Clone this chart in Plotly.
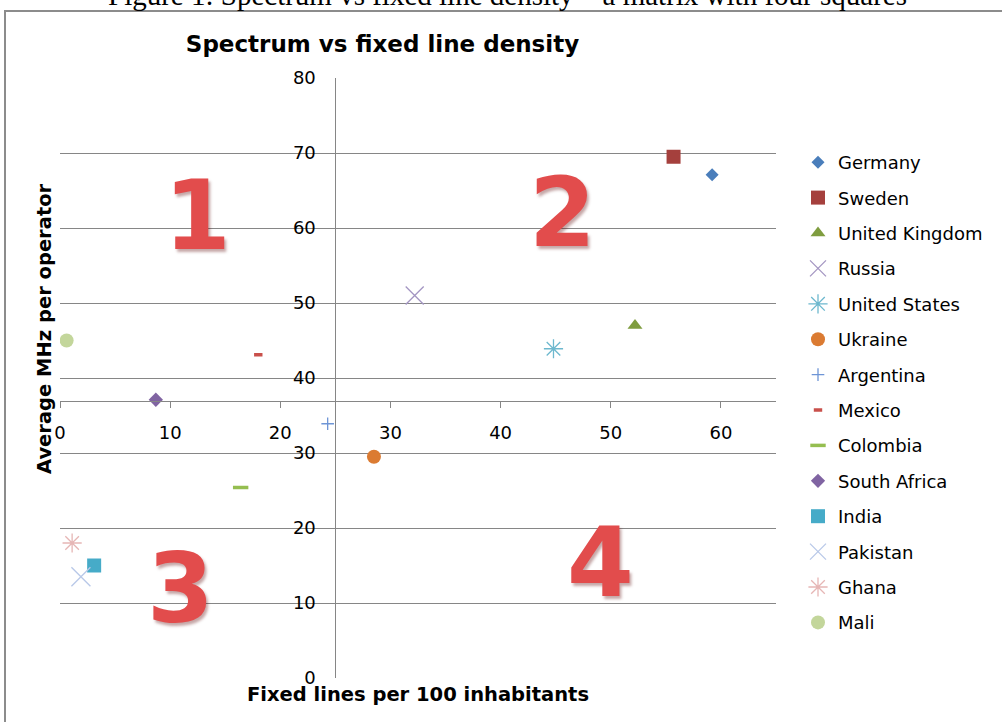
import plotly.graph_objects as go

# ---- data ----
countries = ["Germany", "Sweden", "United Kingdom", "Russia", "United States",
             "Ukraine", "Argentina", "Mexico", "Colombia", "South Africa",
             "India", "Pakistan", "Ghana", "Mali"]
fixed_lines = [59.2, 55.7, 52.2, 32.2, 44.8, 28.5, 24.3, 18.0, 16.4, 8.7,
               3.1, 1.9, 1.1, 0.6]
mhz_per_operator = [67.1, 69.5, 47.0, 51.0, 43.9, 29.5, 33.9, 43.1, 25.4, 37.1,
                    15.0, 13.5, 18.0, 45.0]

colors = ["#4A7EBB", "#A5403D", "#7F9D3F", "#A395C2", "#6DB8CE", "#DB7B32",
          "#6E95D6", "#C9504B", "#95BE50", "#8064A2", "#46ABC8", "#B8C8E8",
          "#E6B6B5", "#C3D69B"]
symbols = ["diamond", "square", "triangle-up", "x-thin", "asterisk", "circle",
           "cross-thin", "line-ew", "line-ew", "diamond", "square", "x-thin",
           "asterisk", "circle"]
sizes = [10, 14, 13, 18, 16, 14, 9, 6, 11, 11, 14, 19, 16, 14]
line_widths = [0, 0, 0, 1.3, 1.3, 0, 1.3, 3.5, 3.5, 0, 0, 1.3, 1.3, 0]

quadrant_labels = ["1", "2", "3", "4"]
quadrant_x = [12.5, 45.6, 10.9, 49.1]
quadrant_y = [61.6, 62.0, 11.9, 15.3]

x_ticks = [0, 10, 20, 30, 40, 50, 60]
y_ticks = [0, 10, 20, 30, 40, 50, 60, 70, 80]
X_RANGE = [0, 65]
Y_RANGE = [0, 80]
X_CROSS = 25   # where the vertical axis crosses
Y_CROSS = 37   # where the horizontal axis crosses

W, H = 1002, 722
ML, MR, MT, MB = 60, 226, 78, 44
PW, PH = W - ML - MR, H - MT - MB


def px_x(p):
    return (p - ML) / PW


def px_y(p):
    return (H - MB - p) / PH


fig = go.Figure()
for i, name in enumerate(countries):
    open_sym = line_widths[i] > 0
    fig.add_trace(go.Scatter(
        x=[fixed_lines[i]], y=[mhz_per_operator[i]],
        mode="markers", name=name, legendgroup=name,
        marker=dict(symbol=symbols[i], size=sizes[i], color=colors[i],
                    line=dict(color=colors[i], width=line_widths[i] if open_sym else 0)),
    ))

grey = "#868686"
fig.update_layout(
    width=W, height=H,
    margin=dict(l=ML, r=MR, t=MT, b=MB),
    paper_bgcolor="white", plot_bgcolor="white",
    font=dict(family="DejaVu Sans", size=18, color="black"),
    showlegend=True,
    legend=dict(x=px_x(798), y=px_y(144), xanchor="left", yanchor="top",
                font=dict(family="DejaVu Sans", size=18, color="black"),
                tracegroupgap=9, bgcolor="rgba(0,0,0,0)"),
    title=dict(text="<b>Spectrum vs fixed line density</b>",
               x=382.5 / W, xanchor="center", y=1 - 44 / H, yanchor="middle",
               font=dict(family="DejaVu Sans", size=23, color="black")),
    xaxis=dict(range=X_RANGE, tickvals=x_ticks, showgrid=False, zeroline=False,
               showline=True, linecolor=grey, linewidth=1,
               ticks="outside", ticklen=6, tickcolor=grey,
               anchor="free",
               position=(Y_CROSS - Y_RANGE[0]) / (Y_RANGE[1] - Y_RANGE[0]),
               ticklabelstandoff=10,
               tickfont=dict(family="DejaVu Sans", size=18, color="black")),
    yaxis=dict(range=Y_RANGE, tickvals=y_ticks, showgrid=True, gridcolor=grey,
               gridwidth=1, zeroline=False,
               showline=True, linecolor=grey, linewidth=1, ticks="",
               anchor="free",
               position=(X_CROSS - X_RANGE[0]) / (X_RANGE[1] - X_RANGE[0]),
               ticklabelstandoff=16,
               tickfont=dict(family="DejaVu Sans", size=18, color="black")),
)

annotations = []
for lab, qx, qy in zip(quadrant_labels, quadrant_x, quadrant_y):
    annotations.append(dict(
        x=qx, y=qy, xref="x", yref="y", text="<b>" + lab + "</b>",
        showarrow=False, xanchor="center", yanchor="middle",
        font=dict(family="DejaVu Sans", size=96, color="#E24C4C",
                  shadow="2px 3px 3px rgba(90,0,0,0.35)")))

annotations.append(dict(
    x=0.5, y=px_y(694), xref="paper", yref="paper",
    text="<b>Fixed lines per 100 inhabitants</b>", showarrow=False,
    xanchor="center", yanchor="middle",
    font=dict(family="DejaVu Sans", size=19.5, color="black")))
annotations.append(dict(
    x=px_x(44), y=px_y(329), xref="paper", yref="paper",
    text="<b>Average MHz per operator</b>", showarrow=False, textangle=-90,
    xanchor="center", yanchor="middle",
    font=dict(family="DejaVu Sans", size=19.5, color="black")))
annotations.append(dict(
    x=px_x(507.5), y=px_y(13), xref="paper", yref="paper",
    text="Figure 1: Spectrum vs fixed line density – a matrix with four squares",
    showarrow=False, xanchor="center", yanchor="bottom",
    font=dict(family="Liberation Serif", size=29, color="black")))
fig.update_layout(annotations=annotations)

fig.add_shape(type="rect", xref="paper", yref="paper",
              x0=px_x(5), x1=px_x(1100), y0=px_y(800), y1=px_y(11),
              line=dict(color="#8C8C8C", width=2), fillcolor="rgba(0,0,0,0)",
              layer="below")

fig.write_html("out.html",
               config={"displayModeBar": False},
               post_script="document.body.style.margin='0';"
                           "document.body.style.overflow='hidden';")
